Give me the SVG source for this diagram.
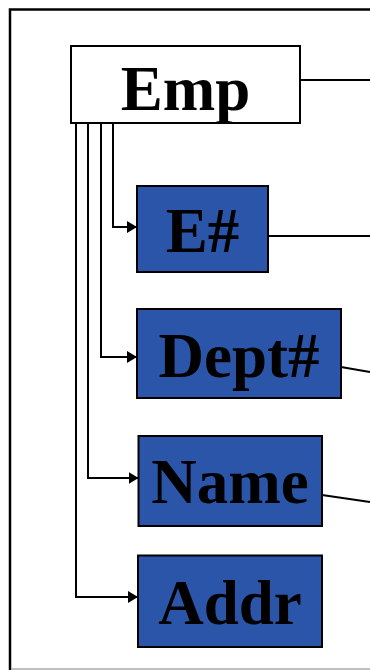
<svg xmlns="http://www.w3.org/2000/svg" width="370" height="670" viewBox="0 0 370 670">
  <style>
    .frame { fill: none; stroke: #000; stroke-width: 2.5; }
    .box { fill: #2b55a9; stroke: #000; stroke-width: 2; }
    .root { fill: #fff; stroke: #000; stroke-width: 2; }
    .lbl { font-family: "Liberation Serif", "Times New Roman", serif; font-weight: bold; font-size: 63px; fill: #000; text-anchor: middle; }
    .wire { fill: none; stroke: #000; stroke-width: 2; }
  </style>
  <defs>
    <marker id="arrow" viewBox="0 0 10 12" refX="10" refY="6" markerWidth="10" markerHeight="12" markerUnits="userSpaceOnUse" orient="auto">
      <path d="M0,0 L10,6 L0,12 Z" fill="#000"/>
    </marker>
  </defs>

  <rect width="370" height="670" fill="#fff"/>

  <!-- outer frame -->
  <path class="frame" d="M10,670 V9.5 H370"/>
  <line x1="11" y1="669" x2="370" y2="669" stroke="#aaa" stroke-width="1.5"/>

  <g id="connectors">
    <line class="wire" x1="300" y1="80" x2="370" y2="80"/>
    <line class="wire" x1="268" y1="236" x2="370" y2="236"/>
    <line class="wire" x1="341" y1="367" x2="370" y2="372"/>
    <line class="wire" x1="322" y1="495" x2="370" y2="502"/>
    <path class="wire" d="M113,123 V227 H137" marker-end="url(#arrow)"/>
    <path class="wire" d="M101,123 V357 H137" marker-end="url(#arrow)"/>
    <path class="wire" d="M88,123 V478 H138.5" marker-end="url(#arrow)"/>
    <path class="wire" d="M76,123 V597 H138" marker-end="url(#arrow)"/>
  </g>

  <g id="emp">
    <rect class="root" x="71" y="46" width="229" height="77"/>
    <text class="lbl" x="185.5" y="110">Emp</text>
  </g>

  <g id="enum">
    <rect class="box" x="137" y="186" width="131" height="86"/>
    <text class="lbl" x="202.5" y="252">E#</text>
  </g>

  <g id="deptnum">
    <rect class="box" x="137" y="309" width="204" height="89"/>
    <text class="lbl" x="239" y="377">Dept#</text>
  </g>

  <g id="name">
    <rect class="box" x="138.5" y="436" width="183.5" height="90"/>
    <text class="lbl" x="230" y="503">Name</text>
  </g>

  <g id="addr">
    <rect class="box" x="138" y="555.5" width="184" height="91.5"/>
    <text class="lbl" x="230" y="624">Addr</text>
  </g>
</svg>
